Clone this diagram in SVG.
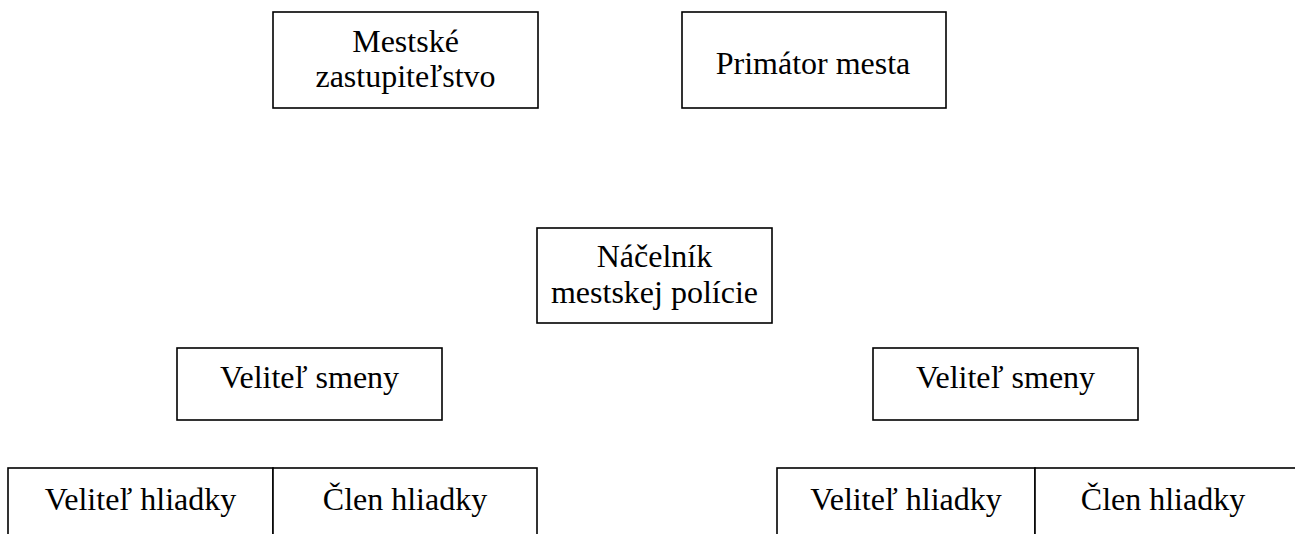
<svg xmlns="http://www.w3.org/2000/svg" width="1295" height="534" viewBox="0 0 1295 534">
<style>
.box{fill:#fff;stroke:#000;stroke-width:1.6}
.t{font-family:"Liberation Serif","Times New Roman",serif;font-size:32px;fill:#000;text-anchor:middle}
</style>
<rect width="1295" height="534" fill="#fff"/>
<g id="connectors"/>
<g id="zastupitelstvo">
<rect class="box" x="273" y="12" width="265" height="96"/>
<text class="t" x="405.5" y="52">Mestské</text>
<text class="t" x="405.5" y="87">zastupiteľstvo</text>
</g>
<g id="primator">
<rect class="box" x="682" y="12" width="264" height="96"/>
<text class="t" x="813" y="74">Primátor mesta</text>
</g>
<g id="nacelnik">
<rect class="box" x="537" y="228" width="235" height="95"/>
<text class="t" x="654.5" y="267">Náčelník</text>
<text class="t" x="654.5" y="303">mestskej polície</text>
</g>
<g id="velitel-smeny-1">
<rect class="box" x="177" y="348" width="265" height="72"/>
<text class="t" x="309.5" y="388">Veliteľ smeny</text>
</g>
<g id="velitel-smeny-2">
<rect class="box" x="873" y="348" width="265" height="72"/>
<text class="t" x="1005.5" y="388">Veliteľ smeny</text>
</g>
<g id="hliadka-1">
<rect class="box" x="8" y="468" width="265" height="80"/>
<rect class="box" x="273" y="468" width="264" height="80"/>
<text class="t" x="140.5" y="510">Veliteľ hliadky</text>
<text class="t" x="405" y="510">Člen hliadky</text>
</g>
<g id="hliadka-2">
<rect class="box" x="777" y="468" width="258" height="80"/>
<rect class="box" x="1035" y="468" width="264" height="80"/>
<text class="t" x="906" y="510">Veliteľ hliadky</text>
<text class="t" x="1163" y="510">Člen hliadky</text>
</g>
</svg>
